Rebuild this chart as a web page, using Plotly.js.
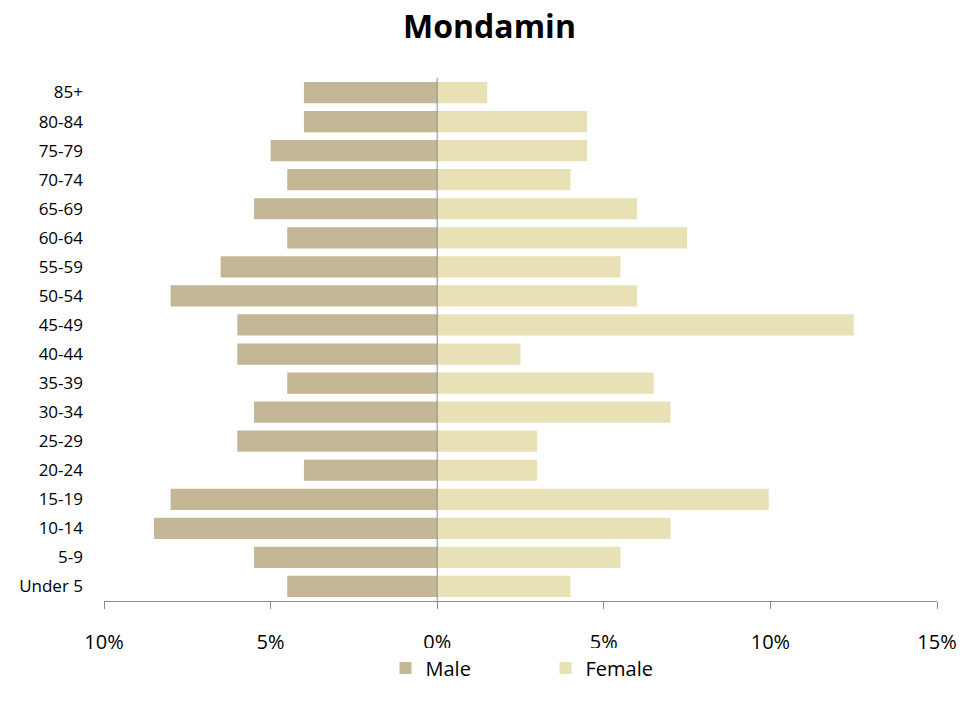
<!DOCTYPE html>
<html><head><meta charset="utf-8">
<script src="https://cdn.plot.ly/plotly-3.0.1.min.js"></script>
<style>body{margin:0;background:#fff}#chart{width:979px;height:713px}</style>
</head><body><div id="chart"></div>
<script>
var ageGroups = ["Under 5","5-9","10-14","15-19","20-24","25-29","30-34","35-39","40-44","45-49","50-54","55-59","60-64","65-69","70-74","75-79","80-84","85+"];
var maleValues = [4.5,5.5,8.5,8.0,4.0,6.0,5.5,4.5,6.0,6.0,8.0,6.5,4.5,5.5,4.5,5.0,4.0,4.0];
var femaleValues = [4.0,5.5,7.0,9.95,3.0,3.0,7.0,6.5,2.5,12.5,6.0,5.5,7.5,6.0,4.0,4.5,4.5,1.5];
var tickValues = [-10,-5,0,5,10,15];
var tickLabels = ["10%","5%","0%","5%","10%","15%"];

var font = "Open Sans, Liberation Sans, sans-serif";
var traces = [
  {type:"bar", orientation:"h", name:"Male", y:ageGroups, x:maleValues.map(function(v){return -v;}),
   marker:{color:"#c4b796"}, hoverinfo:"skip"},
  {type:"bar", orientation:"h", name:"Female", y:ageGroups, x:femaleValues,
   marker:{color:"#e9e1b6"}, hoverinfo:"skip"}
];
var layout = {
  width:979, height:713,
  paper_bgcolor:"#fff", plot_bgcolor:"#fff",
  margin:{l:104, r:42, t:78, b:112},
  title:{text:"<b>Mondamin</b>", x:0.5, xanchor:"center", y:0.963, yanchor:"middle", font:{family:font, size:32, color:"#000"}},
  barmode:"relative", bargap:0.27,
  font:{family:font, color:"#000"},
  xaxis:{range:[-10,15], tickvals:tickValues, ticktext:tickLabels, showgrid:false, zeroline:false,
         showline:true, linecolor:"#8c8c8c", linewidth:1, ticks:"outside", ticklen:7, tickcolor:"#8c8c8c",
         tickfont:{size:20, family:font}, ticklabelstandoff:16, fixedrange:true},
  yaxis:{type:"category", categoryorder:"array", categoryarray:ageGroups, showgrid:false, zeroline:false,
         showline:false, ticks:"", tickfont:{size:17, family:font}, ticklabelstandoff:20, fixedrange:true},
  shapes:[{type:"line", xref:"x", yref:"paper", x0:0, x1:0, y0:0, y1:1, layer:"above", line:{color:"#8c8c8c", width:1}}],
  showlegend:true,
  legend:{orientation:"h", x:0.53, xanchor:"center", y:-0.128, yanchor:"middle", font:{size:20, family:font},
          entrywidth:115, traceorder:"normal"}
};
Plotly.newPlot("chart", traces, layout, {displayModeBar:false, staticPlot:true});
</script></body></html>
